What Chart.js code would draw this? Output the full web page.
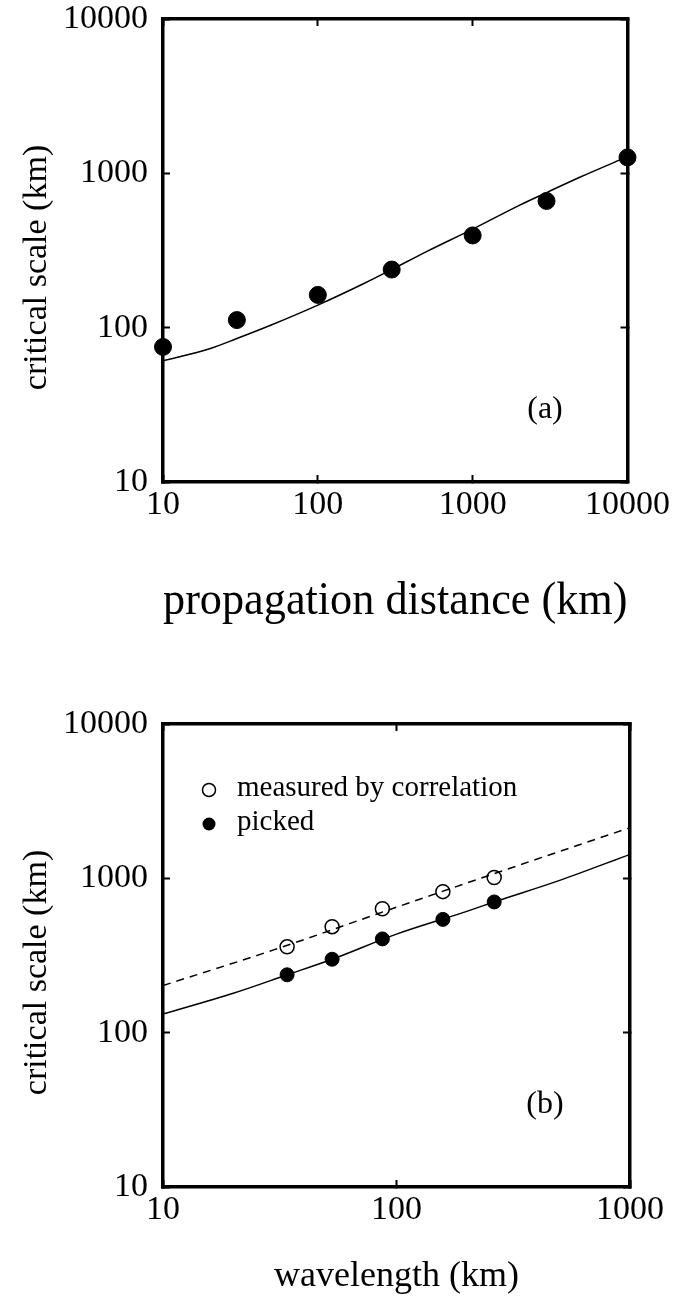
<!DOCTYPE html>
<html>
<head>
<meta charset="utf-8">
<script src="https://cdn.jsdelivr.net/npm/chart.js@4.4.0/dist/chart.umd.min.js"></script>
<style>
  html, body { margin: 0; padding: 0; background: #fff; overflow: hidden; }
  .box { position: absolute; left: 0; width: 680px; }
</style>
</head>
<body>
<div class="box" style="top:-30px;height:680px"><canvas id="chartA"></canvas></div>
<div class="box" style="top:650px;height:648px"><canvas id="chartB"></canvas></div>
<script>
// panel (a): critical scale vs propagation distance
const distPoints = [10, 30, 100, 300, 1000, 3000, 10000]
const scaleAPoints = [75, 112, 163, 238, 396, 662, 1268]
const distCurve = [10, 20, 30, 50, 100, 200, 300, 500, 1000, 2000, 3000, 5000, 10000]
const scaleACurve = [61, 73, 85, 104, 140, 194, 238, 310, 435, 620, 750, 950, 1282]

// panel (b): critical scale vs wavelength
const wavePoints = [34, 53, 87, 158, 262]
const measuredPoints = [360, 486, 635, 820, 1012]
const pickedPoints = [237, 299, 405, 542, 703]
const waveSolid = [10, 20, 34, 53, 100, 200, 262, 500, 1000]
const pickedCurve = [132, 180, 237, 299, 435, 611, 703, 970, 1429]
const waveDashed = [10, 30, 100, 300, 1000]
const measuredCurve = [202, 345, 650, 1150, 2130]

const ticksA_x = [10, 100, 1000, 10000]
const ticksB_x = [10, 100, 1000]
const ticks_y = [10, 100, 1000, 10000]

const serif = "'Liberation Serif', 'DejaVu Serif', serif"
const yTitle = 'critical scale (km)\u00a0\u00a0\u00a0\u00a0'

const xy = (xs, ys) => xs.map((x, i) => ({x: x, y: ys[i]}))

function axis(position, min, max, tickList, size, labels, title, titleFont, titlePad) {
    return {
        type: 'logarithmic',
        position: position,
        min: min,
        max: max,
        afterBuildTicks: (s) => { s.ticks = tickList.map(v => ({value: v})) },
        afterFit: (s) => {
            if (position == 'left' || position == 'right') s.width = size
            else s.height = size
        },
        border: {display: true, color: '#000', width: 3.5},
        grid: {drawOnChartArea: false, drawTicks: true, tickLength: -7, tickWidth: 2, color: '#000'},
        ticks: {
            display: labels,
            color: '#000',
            font: {family: serif, size: 34},
            padding: (position == 'left') ? 22 : 10,
            maxRotation: 0,
            autoSkip: false,
            callback: (v) => String(v)
        },
        title: {
            display: !!title,
            text: title,
            color: '#000',
            font: {family: serif, size: titleFont},
            padding: titlePad
        }
    }
}

const notes = {
    id: 'notes',
    afterDraw(chart) {
        const o = chart.options.plugins.notes
        const ctx = chart.ctx
        const a = chart.chartArea
        ctx.save()
        ctx.fillStyle = '#000'
        ctx.strokeStyle = '#000'
        ctx.textBaseline = 'middle'
        ctx.textAlign = 'center'
        ctx.font = '32px ' + serif
        ctx.fillText(o.label, a.left + o.labelX, a.bottom - o.labelY)
        if (o.legend) {
            ctx.textAlign = 'left'
            ctx.font = '29px ' + serif
            o.legend.forEach((item, i) => {
                const y = a.top + 66 + i * 34
                ctx.beginPath()
                ctx.arc(a.left + 46, y, 6.5, 0, Math.PI * 2)
                if (item.filled) ctx.fill()
                else { ctx.lineWidth = 1.5; ctx.stroke() }
                ctx.fillText(item.text, a.left + 74, y - 2)
            })
        }
        ctx.restore()
    }
}

new Chart(document.getElementById('chartA'), {
    type: 'scatter',
    plugins: [notes],
    data: {
        datasets: [
            {data: xy(distCurve, scaleACurve), showLine: true, borderColor: '#000', borderWidth: 1.5, pointRadius: 0, cubicInterpolationMode: 'monotone'},
            {data: xy(distPoints, scaleAPoints), backgroundColor: '#000', borderColor: '#000', pointRadius: 8.5, clip: false}
        ]
    },
    options: {
        responsive: true,
        maintainAspectRatio: false,
        animation: false,
        devicePixelRatio: 1,
        layout: {padding: 0},
        plugins: {
            legend: {display: false},
            tooltip: {enabled: false},
            notes: {label: '(a)', labelX: 382, labelY: 72}
        },
        scales: {
            x: axis('bottom', 10, 10000, ticksA_x, 168, true, 'propagation distance (km)', 47, {top: 0, bottom: 20}),
            x2: axis('top', 10, 10000, ticksA_x, 49, false),
            y: axis('left', 10, 10000, ticks_y, 163, true, yTitle, 34, {top: 17, bottom: 0}),
            y2: axis('right', 10, 10000, ticks_y, 50, false)
        }
    }
})

new Chart(document.getElementById('chartB'), {
    type: 'scatter',
    plugins: [notes],
    data: {
        datasets: [
            {data: xy(waveDashed, measuredCurve), showLine: true, borderColor: '#000', borderWidth: 1.5, borderDash: [8, 6], pointRadius: 0, cubicInterpolationMode: 'monotone'},
            {data: xy(waveSolid, pickedCurve), showLine: true, borderColor: '#000', borderWidth: 1.5, pointRadius: 0, cubicInterpolationMode: 'monotone'},
            {data: xy(wavePoints, measuredPoints), backgroundColor: '#fff', borderColor: '#000', borderWidth: 1.5, pointRadius: 7, clip: false},
            {data: xy(wavePoints, pickedPoints), backgroundColor: '#000', borderColor: '#000', pointRadius: 7, clip: false}
        ]
    },
    options: {
        responsive: true,
        maintainAspectRatio: false,
        animation: false,
        devicePixelRatio: 1,
        layout: {padding: 0},
        plugins: {
            legend: {display: false},
            tooltip: {enabled: false},
            notes: {
                label: '(b)', labelX: 382, labelY: 82,
                legend: [{text: 'measured by correlation', filled: false}, {text: 'picked', filled: true}]
            }
        },
        scales: {
            x: axis('bottom', 10, 1000, ticksB_x, 111, true, 'wavelength (km)', 36, {top: 0, bottom: 0}),
            x2: axis('top', 10, 1000, ticksB_x, 74, false),
            y: axis('left', 10, 10000, ticks_y, 163, true, yTitle, 34, {top: 17, bottom: 0}),
            y2: axis('right', 10, 10000, ticks_y, 50, false)
        }
    }
})
</script>
</body>
</html>
